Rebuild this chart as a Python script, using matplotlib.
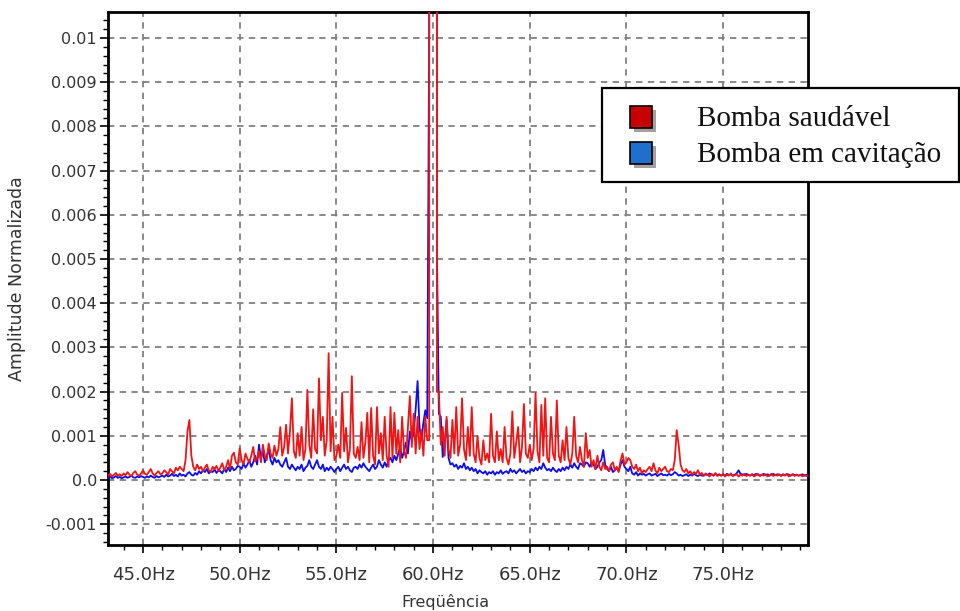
import numpy as np
import matplotlib.pyplot as plt
from matplotlib.patches import Rectangle
from matplotlib.ticker import MultipleLocator

# frequency bins, 0.1 Hz apart, from 43.2 Hz to 79.4 Hz
freq = np.round(np.arange(432, 795) / 10.0, 1)

# normalized amplitude, in units of 1e-3 (one row per Hz)
healthy = [
    0.10, 0.14, 0.08, 0.12, 0.16, 0.10, 0.13, 0.09,                    # 43.2
    0.15, 0.11, 0.18, 0.12, 0.09, 0.16, 0.20, 0.12, 0.10, 0.15,        # 44
    0.22, 0.14, 0.12, 0.18, 0.25, 0.15, 0.10, 0.16, 0.20, 0.13,        # 45
    0.15, 0.22, 0.18, 0.12, 0.25, 0.20, 0.15, 0.28, 0.22, 0.30,        # 46
    0.25, 0.20, 0.45, 1.10, 1.36, 0.55, 0.30, 0.22, 0.35, 0.25,        # 47
    0.30, 0.20, 0.28, 0.35, 0.22, 0.18, 0.30, 0.25, 0.32, 0.20,        # 48
    0.28, 0.38, 0.22, 0.30, 0.45, 0.25, 0.55, 0.62, 0.40, 0.35,        # 49
    0.72, 0.45, 0.35, 0.60, 0.48, 0.40, 0.55, 0.75, 0.42, 0.50,        # 50
    0.65, 0.40, 0.80, 0.55, 0.45, 0.83, 0.60, 0.50, 0.78, 0.55,        # 51
    0.70, 1.20, 0.55, 0.75, 1.25, 0.60, 1.10, 1.85, 0.65, 0.50,        # 52
    1.06, 0.55, 1.20, 0.45, 0.70, 2.04, 0.80, 0.50, 1.60, 0.70,        # 53
    0.60, 2.30, 0.90, 1.43, 0.55, 0.90, 2.87, 0.65, 1.43, 0.45,        # 54
    0.55, 0.80, 0.50, 1.97, 0.65, 1.18, 0.40, 0.70, 2.35, 0.60,        # 55
    0.50, 0.75, 0.45, 1.31, 0.50, 0.85, 1.52, 0.40, 1.63, 0.55,        # 56
    0.35, 1.65, 0.60, 1.06, 0.45, 1.43, 0.55, 0.30, 1.65, 0.50,        # 57
    1.52, 0.60, 1.13, 0.40, 1.43, 0.65, 0.50, 1.20, 1.90, 0.75,        # 58
    1.50, 0.60, 1.43, 0.70, 1.13, 0.55, 1.43, 0.90, 0.90, 400.0,       # 59
    1000.0, 400.0, 2.00, 2.00, 0.80, 1.20, 0.55, 1.43, 0.70, 0.50,     # 60
    1.36, 0.60, 1.65, 0.55, 0.80, 1.85, 0.70, 0.45, 1.20, 0.55,        # 61
    1.65, 0.60, 0.40, 1.00, 0.50, 0.35, 0.90, 0.45, 0.60, 0.40,        # 62
    1.50, 0.55, 0.40, 1.10, 0.45, 0.70, 0.40, 1.20, 0.50, 0.35,        # 63
    0.60, 1.55, 0.50, 0.85, 1.20, 0.40, 0.75, 1.72, 0.60, 0.50,        # 64
    0.80, 0.45, 0.70, 1.97, 0.65, 0.40, 1.70, 0.55, 1.85, 0.50,        # 65
    0.40, 1.43, 0.60, 0.45, 1.80, 0.55, 0.40, 0.90, 0.45, 1.20,        # 66
    0.50, 0.35, 0.60, 1.43, 0.55, 0.40, 0.75, 0.45, 0.30, 1.06,        # 67
    0.50, 0.68, 0.30, 0.45, 0.25, 0.55, 0.30, 0.22, 0.40, 0.25,        # 68
    0.30, 0.20, 0.35, 0.40, 0.22, 0.30, 0.18, 0.45, 0.60, 0.35,        # 69
    0.40, 0.50, 0.45, 0.30, 0.25, 0.35, 0.20, 0.28, 0.15, 0.22,        # 70
    0.18, 0.25, 0.30, 0.20, 0.38, 0.22, 0.15, 0.28, 0.20, 0.25,        # 71
    0.30, 0.20, 0.18, 0.25, 0.22, 0.45, 1.13, 0.80, 0.35, 0.22,        # 72
    0.18, 0.25, 0.15, 0.20, 0.12, 0.18, 0.14, 0.22, 0.12, 0.16,        # 73
    0.10, 0.15, 0.12, 0.08, 0.14, 0.10, 0.16, 0.09, 0.12, 0.10,        # 74
    0.14, 0.08, 0.12, 0.10, 0.15, 0.09, 0.11, 0.13, 0.08, 0.12,        # 75
    0.10, 0.14, 0.09, 0.12, 0.10, 0.13, 0.08, 0.11, 0.14, 0.09,        # 76
    0.12, 0.10, 0.13, 0.08, 0.11, 0.14, 0.09, 0.12, 0.10, 0.13,        # 77
    0.09, 0.12, 0.10, 0.14, 0.08, 0.11, 0.13, 0.09, 0.12, 0.10,        # 78
    0.12, 0.08, 0.11, 0.09, 0.10,                                      # 79
]

cavitation = [
    0.05, 0.08, 0.04, 0.06, 0.09, 0.05, 0.07, 0.04,                    # 43.2
    0.06, 0.08, 0.05, 0.07, 0.10, 0.06, 0.05, 0.08, 0.06, 0.09,        # 44
    0.07, 0.05, 0.08, 0.06, 0.10, 0.07, 0.05, 0.09, 0.06, 0.08,        # 45
    0.10, 0.07, 0.12, 0.08, 0.10, 0.14, 0.09, 0.12, 0.08, 0.15,        # 46
    0.10, 0.12, 0.08, 0.15, 0.18, 0.12, 0.10, 0.16, 0.12, 0.20,        # 47
    0.15, 0.22, 0.18, 0.25, 0.15, 0.20, 0.18, 0.24, 0.16, 0.22,        # 48
    0.20, 0.15, 0.25, 0.18, 0.28, 0.20, 0.30, 0.22, 0.25, 0.32,        # 49
    0.30, 0.25, 0.38, 0.28, 0.35, 0.45, 0.30, 0.40, 0.55, 0.35,        # 50
    0.80, 0.50, 0.65, 0.40, 0.55, 0.70, 0.45, 0.35, 0.50, 0.40,        # 51
    0.45, 0.35, 0.30, 0.40, 0.50, 0.30, 0.25, 0.35, 0.28, 0.22,        # 52
    0.30, 0.25, 0.35, 0.20, 0.28, 0.32, 0.45, 0.30, 0.25, 0.35,        # 53
    0.45, 0.30, 0.25, 0.35, 0.20, 0.28, 0.22, 0.30, 0.25, 0.18,        # 54
    0.25, 0.30, 0.20, 0.28, 0.35, 0.25, 0.30, 0.22, 0.18, 0.28,        # 55
    0.30, 0.25, 0.35, 0.28, 0.38, 0.30, 0.25, 0.20, 0.28, 0.35,        # 56
    0.25, 0.30, 0.45, 0.35, 0.28, 0.40, 0.30, 0.45, 0.50, 0.40,        # 57
    0.55, 0.45, 0.60, 0.75, 0.50, 0.65, 0.85, 0.60, 1.10, 0.90,        # 58
    1.10, 1.60, 2.24, 1.20, 0.90, 1.30, 1.58, 1.40, 10.2, 400.0,       # 59
    1000.0, 400.0, 5.20, 1.50, 1.43, 0.52, 0.80, 1.36, 0.50, 0.35,     # 60
    0.38, 0.30, 0.35, 0.25, 0.32, 0.28, 0.38, 0.25, 0.30, 0.22,        # 61
    0.28, 0.20, 0.25, 0.15, 0.22, 0.18, 0.15, 0.20, 0.12, 0.18,        # 62
    0.15, 0.20, 0.12, 0.18, 0.15, 0.22, 0.14, 0.18, 0.20, 0.15,        # 63
    0.25, 0.18, 0.22, 0.15, 0.20, 0.25, 0.18, 0.22, 0.15, 0.20,        # 64
    0.18, 0.25, 0.20, 0.28, 0.22, 0.30, 0.25, 0.38, 0.28, 0.22,        # 65
    0.25, 0.20, 0.28, 0.22, 0.18, 0.25, 0.20, 0.28, 0.22, 0.30,        # 66
    0.25, 0.35, 0.28, 0.38, 0.30, 0.25, 0.38, 0.35, 0.30, 0.40,        # 67
    0.38, 0.30, 0.40, 0.35, 0.25, 0.30, 0.40, 0.45, 0.68, 0.35,        # 68
    0.25, 0.20, 0.30, 0.18, 0.22, 0.28, 0.20, 0.35, 0.45, 0.30,        # 69
    0.25, 0.20, 0.30, 0.15, 0.12, 0.18, 0.10, 0.15, 0.12, 0.14,        # 70
    0.10, 0.13, 0.15, 0.10, 0.12, 0.14, 0.09, 0.12, 0.15, 0.11,        # 71
    0.12, 0.10, 0.14, 0.11, 0.13, 0.18, 0.15, 0.10, 0.12, 0.09,        # 72
    0.11, 0.13, 0.09, 0.12, 0.10, 0.14, 0.11, 0.09, 0.12, 0.10,        # 73
    0.10, 0.13, 0.11, 0.15, 0.12, 0.10, 0.14, 0.11, 0.13, 0.10,        # 74
    0.12, 0.10, 0.14, 0.11, 0.13, 0.10, 0.12, 0.15, 0.22, 0.14,        # 75
    0.13, 0.11, 0.14, 0.12, 0.10, 0.13, 0.11, 0.14, 0.12, 0.10,        # 76
    0.12, 0.14, 0.11, 0.13, 0.10, 0.12, 0.14, 0.11, 0.13, 0.12,        # 77
    0.10, 0.13, 0.11, 0.14, 0.12, 0.10, 0.13, 0.11, 0.12, 0.10,        # 78
    0.11, 0.13, 0.10, 0.12, 0.09,                                      # 79
]

x_ticks = [45, 50, 55, 60, 65, 70, 75]
x_labels = ["45.0Hz", "50.0Hz", "55.0Hz", "60.0Hz", "65.0Hz", "70.0Hz", "75.0Hz"]
y_ticks = [-0.001, 0.0, 0.001, 0.002, 0.003, 0.004, 0.005, 0.006, 0.007, 0.008, 0.009, 0.01]
y_labels = ["-0.001", "0.0", "0.001", "0.002", "0.003", "0.004", "0.005",
            "0.006", "0.007", "0.008", "0.009", "0.01"]
legend_labels = ["Bomba saudável", "Bomba em cavitação"]
legend_colors = ["#c80000", "#1e70cc"]

W, H = 960, 611


def px(x, y):
    """pixel position (from top left) -> figure fraction"""
    return x / W, 1 - y / H


fig = plt.figure(figsize=(W / 100, H / 100), dpi=100)
ax = fig.add_axes([108 / W, 1 - 545 / H, 700 / W, 533 / H])

ax.plot(freq, np.array(cavitation) * 1e-3, color="#0c0cf0", lw=1.3, zorder=3)
ax.plot(freq, np.array(healthy) * 1e-3, color="#f21414", lw=1.3, zorder=4)

ax.set_xlim(43.19, 79.39)
ax.set_ylim(-0.00147, 0.01059)

ax.set_xticks(x_ticks)
ax.set_xticklabels(x_labels)
ax.set_yticks(y_ticks)
ax.set_yticklabels(y_labels)
ax.xaxis.set_minor_locator(MultipleLocator(1.0))
ax.yaxis.set_minor_locator(MultipleLocator(0.0002))

ax.tick_params(which="major", direction="out", length=6, width=1.2, labelcolor="#333333")
ax.tick_params(which="minor", direction="out", length=3.5, width=1.0)
ax.tick_params(axis="x", which="major", labelsize=13, pad=9)
ax.tick_params(axis="y", which="major", labelsize=11.5, pad=2)

ax.grid(True, which="major", color="#808080", linestyle=(0, (3.5, 3)), lw=1.3, zorder=1)
for s in ax.spines.values():
    s.set_linewidth(2.0)
    s.set_color("black")

ax.set_xlabel("Freqüência", fontsize=11.5, color="#333333")
ax.xaxis.set_label_coords(0.482, -0.091)
ax.set_ylabel("Amplitude Normalizada", fontsize=12.5, color="#333333", labelpad=14)

# legend box drawn on the figure, it sticks out past the plot area
bx, by = px(602, 182)
fig.add_artist(Rectangle((bx, by), 357 / W, 94 / H, transform=fig.transFigure,
                         facecolor="white", edgecolor="black", lw=1.6, zorder=10))
for i, (lab, col) in enumerate(zip(legend_labels, legend_colors)):
    top = 107 + i * 36
    sx, sy = px(634, top + 25)
    fig.add_artist(Rectangle((sx, sy), 22 / W, 22 / H, transform=fig.transFigure,
                             facecolor="#a8a0a0", edgecolor="none", zorder=11))
    sx, sy = px(630, top + 21)
    fig.add_artist(Rectangle((sx, sy), 22 / W, 22 / H, transform=fig.transFigure,
                             facecolor=col, edgecolor="black", lw=1.2, zorder=12))
    tx, ty = px(697, top + 12)
    fig.text(tx, ty, lab, fontsize=21, family="Liberation Serif", color="#111111",
             va="center", ha="left", zorder=13)

fig.savefig("out.png", dpi=100)
